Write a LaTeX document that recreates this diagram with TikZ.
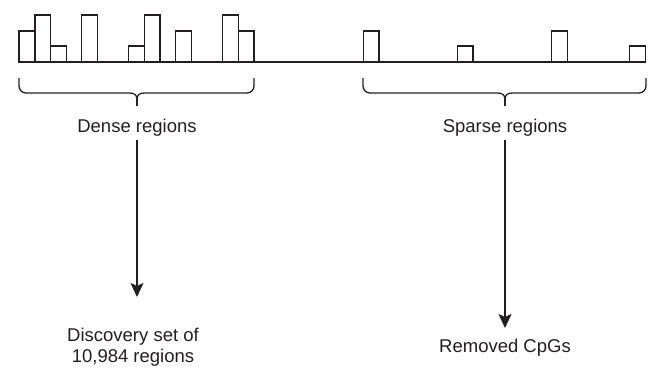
\documentclass[tikz,border=0pt]{standalone}
\usepackage{fontspec}
\setmainfont{Liberation Sans}
\usetikzlibrary{arrows.meta}
\definecolor{ink}{RGB}{35,31,32}
\tikzset{
  lbl/.style={font=\fontsize{18.5}{21}\selectfont, text=ink, inner sep=0pt, align=center},
  bar/.style={draw=ink, line width=1.5pt},
  brace/.style={draw=ink, line width=1.3pt},
  arr/.style={draw=ink, line width=1.3pt, -{Stealth[length=14pt,width=13pt,inset=3pt]}}
}
\begin{document}
\begin{tikzpicture}[x=1pt,y=-1pt]
\useasboundingbox (0,0) rectangle (655,367);
% axis line
\draw[bar] (19,62) -- (645,62);
% bars: left x, top y
\foreach \a/\t in {19/31, 35/15, 50.7/46, 81.7/15, 128.7/46, 144.3/15, 175.7/31, 222.7/15, 238.3/31,
                   363.3/31, 457.3/46, 551.7/31, 629.7/46}
  \draw[bar] (\a,62) rectangle ({\a+15.7},\t);
% braces
\draw[brace] (19,78) -- (19,86) to[out=-90,in=180] (26,93) -- (130,93)
  .. controls (134,93) and (137,95) .. (137,99) .. controls (137,95) and (140,93) .. (144,93)
  -- (247,93) to[out=0,in=-90] (254,86) -- (254,78);
\draw[brace] (137,99) -- (137,106);
\draw[brace] (363,78) -- (363,86) to[out=-90,in=180] (370,93) -- (498,93)
  .. controls (502,93) and (505,95) .. (505,99) .. controls (505,95) and (508,93) .. (512,93)
  -- (639,93) to[out=0,in=-90] (646,86) -- (646,78);
\draw[brace] (505,99) -- (505,106);
% labels
\node[lbl, anchor=base] (dense) at (137,132) {Dense regions};
\node[lbl, anchor=base] (sparse) at (505,132) {Sparse regions};
\node[lbl, anchor=base] (disc) at (133,362) {Discovery set of\\10,984 regions};
\node[lbl, anchor=base] (rem) at (505,352) {Removed CpGs};
% arrows
\coordinate (dtip) at (137,297);
\coordinate (stip) at (505,328);
\draw[arr] (dense.south |- 0,140) -- (dtip);
\draw[arr] (sparse.south |- 0,140) -- (stip);
\end{tikzpicture}
\end{document}
